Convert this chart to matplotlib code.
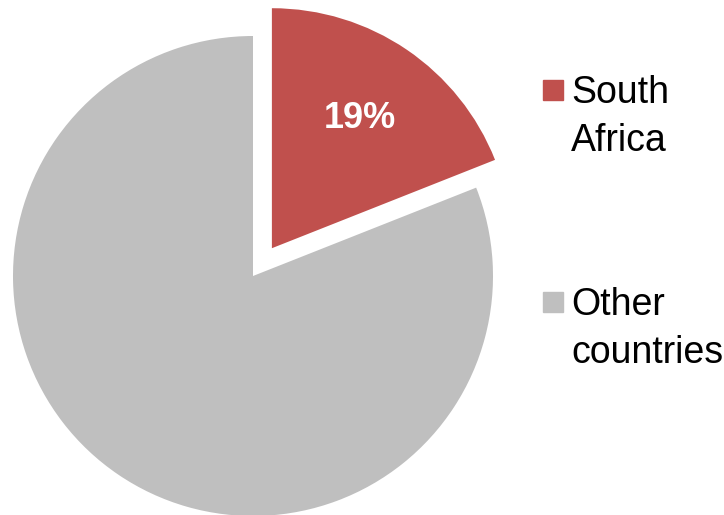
import matplotlib.pyplot as plt
from matplotlib.patches import Rectangle

plt.rcParams['font.family'] = ['Liberation Sans', 'DejaVu Sans']

# Share of the total, in percent
regions = ['South Africa', 'Other countries']
legend_labels = ['South\nAfrica', 'Other\ncountries']
shares = [19, 81]
colors = ['#C0504D', '#BFBFBF']
explode = [0.14, 0]

W, H = 724, 515
fig = plt.figure(figsize=(W / 100, H / 100), dpi=100)

# axes fill the figure; limits give 240 px per data unit with the pie centre at (253, 276) px
ax = fig.add_axes([0, 0, 1, 1])
cx, cy, r = 253, 276, 240
ax.axis('off')

def pct_label(p):
    return f'{p:.0f}%' if p < 50 else ''

wedges, texts, autotexts = ax.pie(
    shares, colors=colors, explode=explode, startangle=90, counterclock=False,
    radius=1, autopct=pct_label, pctdistance=0.655,
    wedgeprops=dict(linewidth=0),
    textprops=dict(color='white', fontsize=26, fontweight='bold'))
ax.set_xlim(-cx / r, (W - cx) / r)
ax.set_ylim(-(H - cy) / r, cy / r)

# legend: square marker beside two-line label
legend_tops = [80, 292]
for label, color, top in zip(legend_labels, colors, legend_tops):
    fig.patches.append(Rectangle((543 / W, 1 - (top + 20) / H), 20 / W, 20 / H,
                                 transform=fig.transFigure, color=color))
    fig.text(571 / W, 1 - (top - 5) / H, label, fontsize=27, va='top', ha='left',
             linespacing=1.43, color='black')

fig.savefig('out.png', dpi=100)
